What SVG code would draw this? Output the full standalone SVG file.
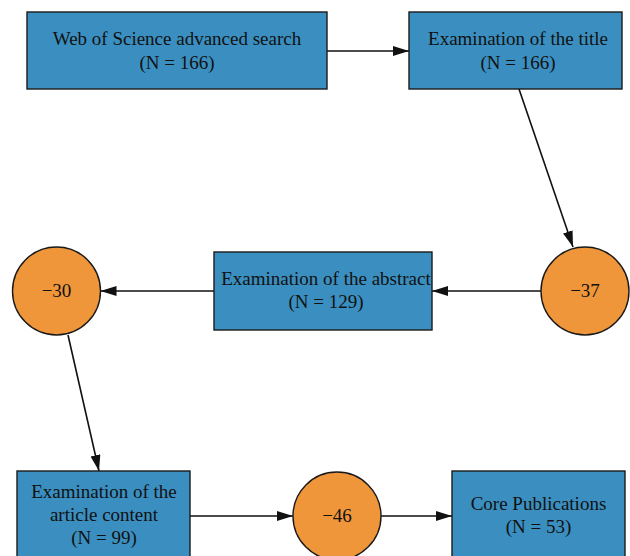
<svg xmlns="http://www.w3.org/2000/svg" width="630" height="556" viewBox="0 0 630 556">
  <style>
    .box { fill: #3a8fc0; stroke: #1a1a1a; stroke-width: 1.4; }
    .circ { fill: #f0963a; stroke: #1a1a1a; stroke-width: 1.4; }
    .lbl { font-family: "Liberation Serif", "Times New Roman", serif; font-size: 19px; fill: #111; text-anchor: middle; }
    .edge { stroke: #111; stroke-width: 1.6; fill: none; marker-end: url(#arr); }
  </style>
  <defs>
    <marker id="arr" markerUnits="userSpaceOnUse" markerWidth="18" markerHeight="12" refX="16" refY="5" orient="auto">
      <path d="M0,0 L16,5 L0,10 z" fill="#111"/>
    </marker>
  </defs>
  <rect width="630" height="556" fill="#ffffff"/>
  <g id="connectors">
    <line class="edge" x1="327" y1="51" x2="409" y2="51"/>
    <line class="edge" x1="519" y1="89" x2="573" y2="247"/>
    <line class="edge" x1="541" y1="291" x2="432" y2="291"/>
    <line class="edge" x1="214" y1="291" x2="100.5" y2="291"/>
    <line class="edge" x1="68" y1="335" x2="99" y2="471"/>
    <line class="edge" x1="190" y1="516" x2="293" y2="516"/>
    <line class="edge" x1="381" y1="516" x2="452" y2="516"/>
  </g>
  <g id="wos">
    <rect class="box" x="27" y="12" width="300" height="77"/>
    <text class="lbl" x="177" y="45">Web of Science advanced search</text>
    <text class="lbl" x="177" y="69">(N = 166)</text>
  </g>
  <g id="title">
    <rect class="box" x="409" y="12" width="213" height="77"/>
    <text class="lbl" x="518" y="45">Examination of the title</text>
    <text class="lbl" x="518" y="69">(N = 166)</text>
  </g>
  <g id="minus37">
    <circle class="circ" cx="585" cy="291" r="44"/>
    <text class="lbl" x="585" y="297">−37</text>
  </g>
  <g id="abstract">
    <rect class="box" x="214" y="252" width="218" height="78"/>
    <text class="lbl" x="326" y="285">Examination of the abstract</text>
    <text class="lbl" x="326" y="308">(N = 129)</text>
  </g>
  <g id="minus30">
    <circle class="circ" cx="56.5" cy="291" r="44"/>
    <text class="lbl" x="56.5" y="297">−30</text>
  </g>
  <g id="content">
    <rect class="box" x="17" y="471" width="173" height="92"/>
    <text class="lbl" x="104" y="498">Examination of the</text>
    <text class="lbl" x="104" y="521">article content</text>
    <text class="lbl" x="104" y="544">(N = 99)</text>
  </g>
  <g id="minus46">
    <circle class="circ" cx="337" cy="516" r="44"/>
    <text class="lbl" x="337" y="522">−46</text>
  </g>
  <g id="core">
    <rect class="box" x="452" y="471" width="173" height="92"/>
    <text class="lbl" x="538.5" y="510">Core Publications</text>
    <text class="lbl" x="538.5" y="533">(N = 53)</text>
  </g>
</svg>
